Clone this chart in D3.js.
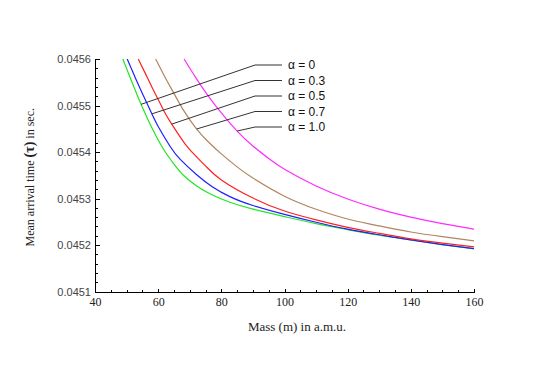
<!DOCTYPE html>
<meta charset="utf-8">
<style>
    html, body {
        margin: 0;
        padding: 0;
        background: #fff;
    }
    .axis path, .axis line {
        stroke: #000;
        stroke-width: 1px;
        shape-rendering: crispEdges;
    }
    .ylab text {
        font: 11px "Liberation Sans", Arial, sans-serif;
        fill: #444;
    }
    .xlab text {
        font: 12px "Liberation Serif", "Times New Roman", serif;
        fill: #222;
    }
    .curve {
        fill: none;
        stroke-width: 1.2px;
    }
    .leader {
        stroke: #333;
        stroke-width: 1px;
        fill: none;
    }
    .legend text {
        font: 12px "Liberation Sans", Arial, sans-serif;
        fill: #111;
    }
</style>
<body>
<div id="chart"></div>
<script src="https://cdn.jsdelivr.net/npm/d3@7"></script>
<script>
// values (mass in a.m.u., mean arrival time in sec.)
var massA0  = [48.8, 52, 55, 58, 61.6, 65, 68, 72.2, 77, 82.7, 90, 100, 110, 120, 130, 140, 150, 160];
var tauA0   = [0.045600, 0.045545, 0.045496, 0.045452, 0.045407, 0.045374, 0.045350, 0.045327, 0.045308,
               0.045292, 0.045277, 0.045261, 0.045246, 0.045233, 0.045221, 0.045211, 0.045201, 0.045192];

var massA03 = [50.2, 53, 55, 58, 60, 63.7, 67, 72.2, 77, 82.7, 90, 100, 110, 120, 130, 140, 150, 160];
var tauA03  = [0.045600, 0.045556, 0.045526, 0.045482, 0.045455, 0.045413, 0.045384, 0.045351, 0.045326,
               0.045304, 0.045285, 0.045266, 0.045249, 0.045234, 0.045222, 0.045211, 0.045201, 0.045192];

var massA05 = [53.7, 56, 58, 60, 62, 64.3, 67, 70, 75, 80, 90, 100, 110, 120, 130, 140, 150, 160];
var tauA05  = [0.045600, 0.045568, 0.045540, 0.045513, 0.045486, 0.045460, 0.045432, 0.045405, 0.045370,
               0.045340, 0.045301, 0.045273, 0.045254, 0.045238, 0.045225, 0.045213, 0.045204, 0.045196];

var massA07 = [59.2, 62, 65, 68, 72, 76, 80, 85, 90, 100, 110, 120, 130, 140, 150, 160];
var tauA07  = [0.045600, 0.045563, 0.045526, 0.045490, 0.045451, 0.045421, 0.045396, 0.045368,
               0.045344, 0.045305, 0.045277, 0.045256, 0.045241, 0.045228, 0.045218, 0.045209];

var massA10 = [68.2, 72, 76, 80, 85, 90, 95, 100, 110, 120, 130, 140, 150, 160];
var tauA10  = [0.045600, 0.045559, 0.045519, 0.045484, 0.045445, 0.045413, 0.045386, 0.045363,
               0.045327, 0.045299, 0.045277, 0.045260, 0.045246, 0.045234];

var alphaLabels = ["α = 0", "α = 0.3", "α = 0.5", "α = 0.7", "α = 1.0"];
// mass where each leader line touches its curve
var leaderMass = [54.6, 58.0, 64.3, 72.2, 85.0];

var xMajor = [40, 60, 80, 100, 120, 140, 160];
var yMajor = [0.0451, 0.0452, 0.0453, 0.0454, 0.0455, 0.0456];

var series = [
    {mass: massA0,  tau: tauA0,  color: "#22e622"},
    {mass: massA03, tau: tauA03, color: "#1f1fff"},
    {mass: massA05, tau: tauA05, color: "#ff2020"},
    {mass: massA07, tau: tauA07, color: "#b08660"},
    {mass: massA10, tau: tauA10, color: "#ff2cff"}
];

var W = 545, H = 371;
var plotL = 95, plotR = 474, plotT = 59, plotB = 291.5;

var x = d3.scaleLinear().domain([40, 160]).range([plotL, plotR]);
var y = d3.scaleLinear().domain([0.0451, 0.0456]).range([plotB, plotT]);

var svg = d3.select("#chart").append("svg")
    .attr("width", W)
    .attr("height", H);

svg.append("rect").attr("width", W).attr("height", H).attr("fill", "#fff");

// minor ticks
var xMinor = d3.range(40, 161, 5).filter(function(d) { return d % 20 !== 0; });
var yMinor = d3.range(0, 26).map(function(i) { return 0.0451 + i * 0.00002; })
    .filter(function(d, i) { return i % 5 !== 0; });

svg.append("g")
    .attr("class", "axis")
    .attr("transform", "translate(0," + plotB + ")")
    .call(d3.axisBottom(x).tickValues(xMinor).tickFormat("").tickSizeInner(-2).tickSizeOuter(0));

svg.append("g")
    .attr("class", "axis")
    .attr("transform", "translate(" + plotL + ",0)")
    .call(d3.axisLeft(y).tickValues(yMinor).tickFormat("").tickSizeInner(-3).tickSizeOuter(0));

// major ticks
svg.append("g")
    .attr("class", "axis xlab")
    .attr("transform", "translate(0," + plotB + ")")
    .call(d3.axisBottom(x).tickValues(xMajor).tickFormat(d3.format("d"))
        .tickSizeInner(-3).tickSizeOuter(0).tickPadding(6));

svg.append("g")
    .attr("class", "axis ylab")
    .attr("transform", "translate(" + plotL + ",0)")
    .call(d3.axisLeft(y).tickValues(yMajor).tickFormat(d3.format(".4f"))
        .tickSizeInner(-5).tickSizeOuter(0).tickPadding(4));

// curves
var line = d3.line()
    .x(function(d) { return x(d[0]); })
    .y(function(d) { return y(d[1]); })
    .curve(d3.curveNatural);

svg.append("defs").append("clipPath")
    .attr("id", "clip")
    .append("rect")
    .attr("x", plotL).attr("y", plotT - 1)
    .attr("width", plotR - plotL + 1).attr("height", plotB - plotT + 1);

svg.append("g")
    .attr("clip-path", "url(#clip)")
    .selectAll("path")
    .data(series)
    .enter().append("path")
    .attr("class", "curve")
    .attr("stroke", function(d) { return d.color; })
    .attr("d", function(d) { return line(d3.zip(d.mass, d.tau)); });

// legend with leader lines
var legend = svg.append("g").attr("class", "legend");
var legY0 = 65, legStep = 15.5, elbowX = 255, endX = 282;

series.forEach(function(s, i) {
    var m = leaderMass[i];
    var t = d3.scaleLinear().domain(s.mass).range(s.tau)(m);
    var ly = legY0 + i * legStep;
    legend.append("polyline")
        .attr("class", "leader")
        .attr("points", [[x(m), y(t)], [elbowX, ly], [endX, ly]].join(" "));
    legend.append("text")
        .attr("x", 288)
        .attr("y", ly)
        .attr("dy", "0.35em")
        .text(alphaLabels[i]);
});

// axis titles
svg.append("text")
    .attr("transform", "translate(34," + ((plotT + plotB) / 2 + 2) + ") rotate(-90)")
    .attr("text-anchor", "middle")
    .style("font", "12px 'Liberation Serif', 'Times New Roman', serif")
    .style("fill", "#222")
    .html("Mean arrival time <tspan font-weight='bold' font-size='14px'>(τ)</tspan> in sec.");

svg.append("text")
    .attr("x", 297)
    .attr("y", 331)
    .attr("text-anchor", "middle")
    .style("font", "13px 'Liberation Serif', 'Times New Roman', serif")
    .style("fill", "#222")
    .text("Mass (m) in a.m.u.");
</script>
</body>
